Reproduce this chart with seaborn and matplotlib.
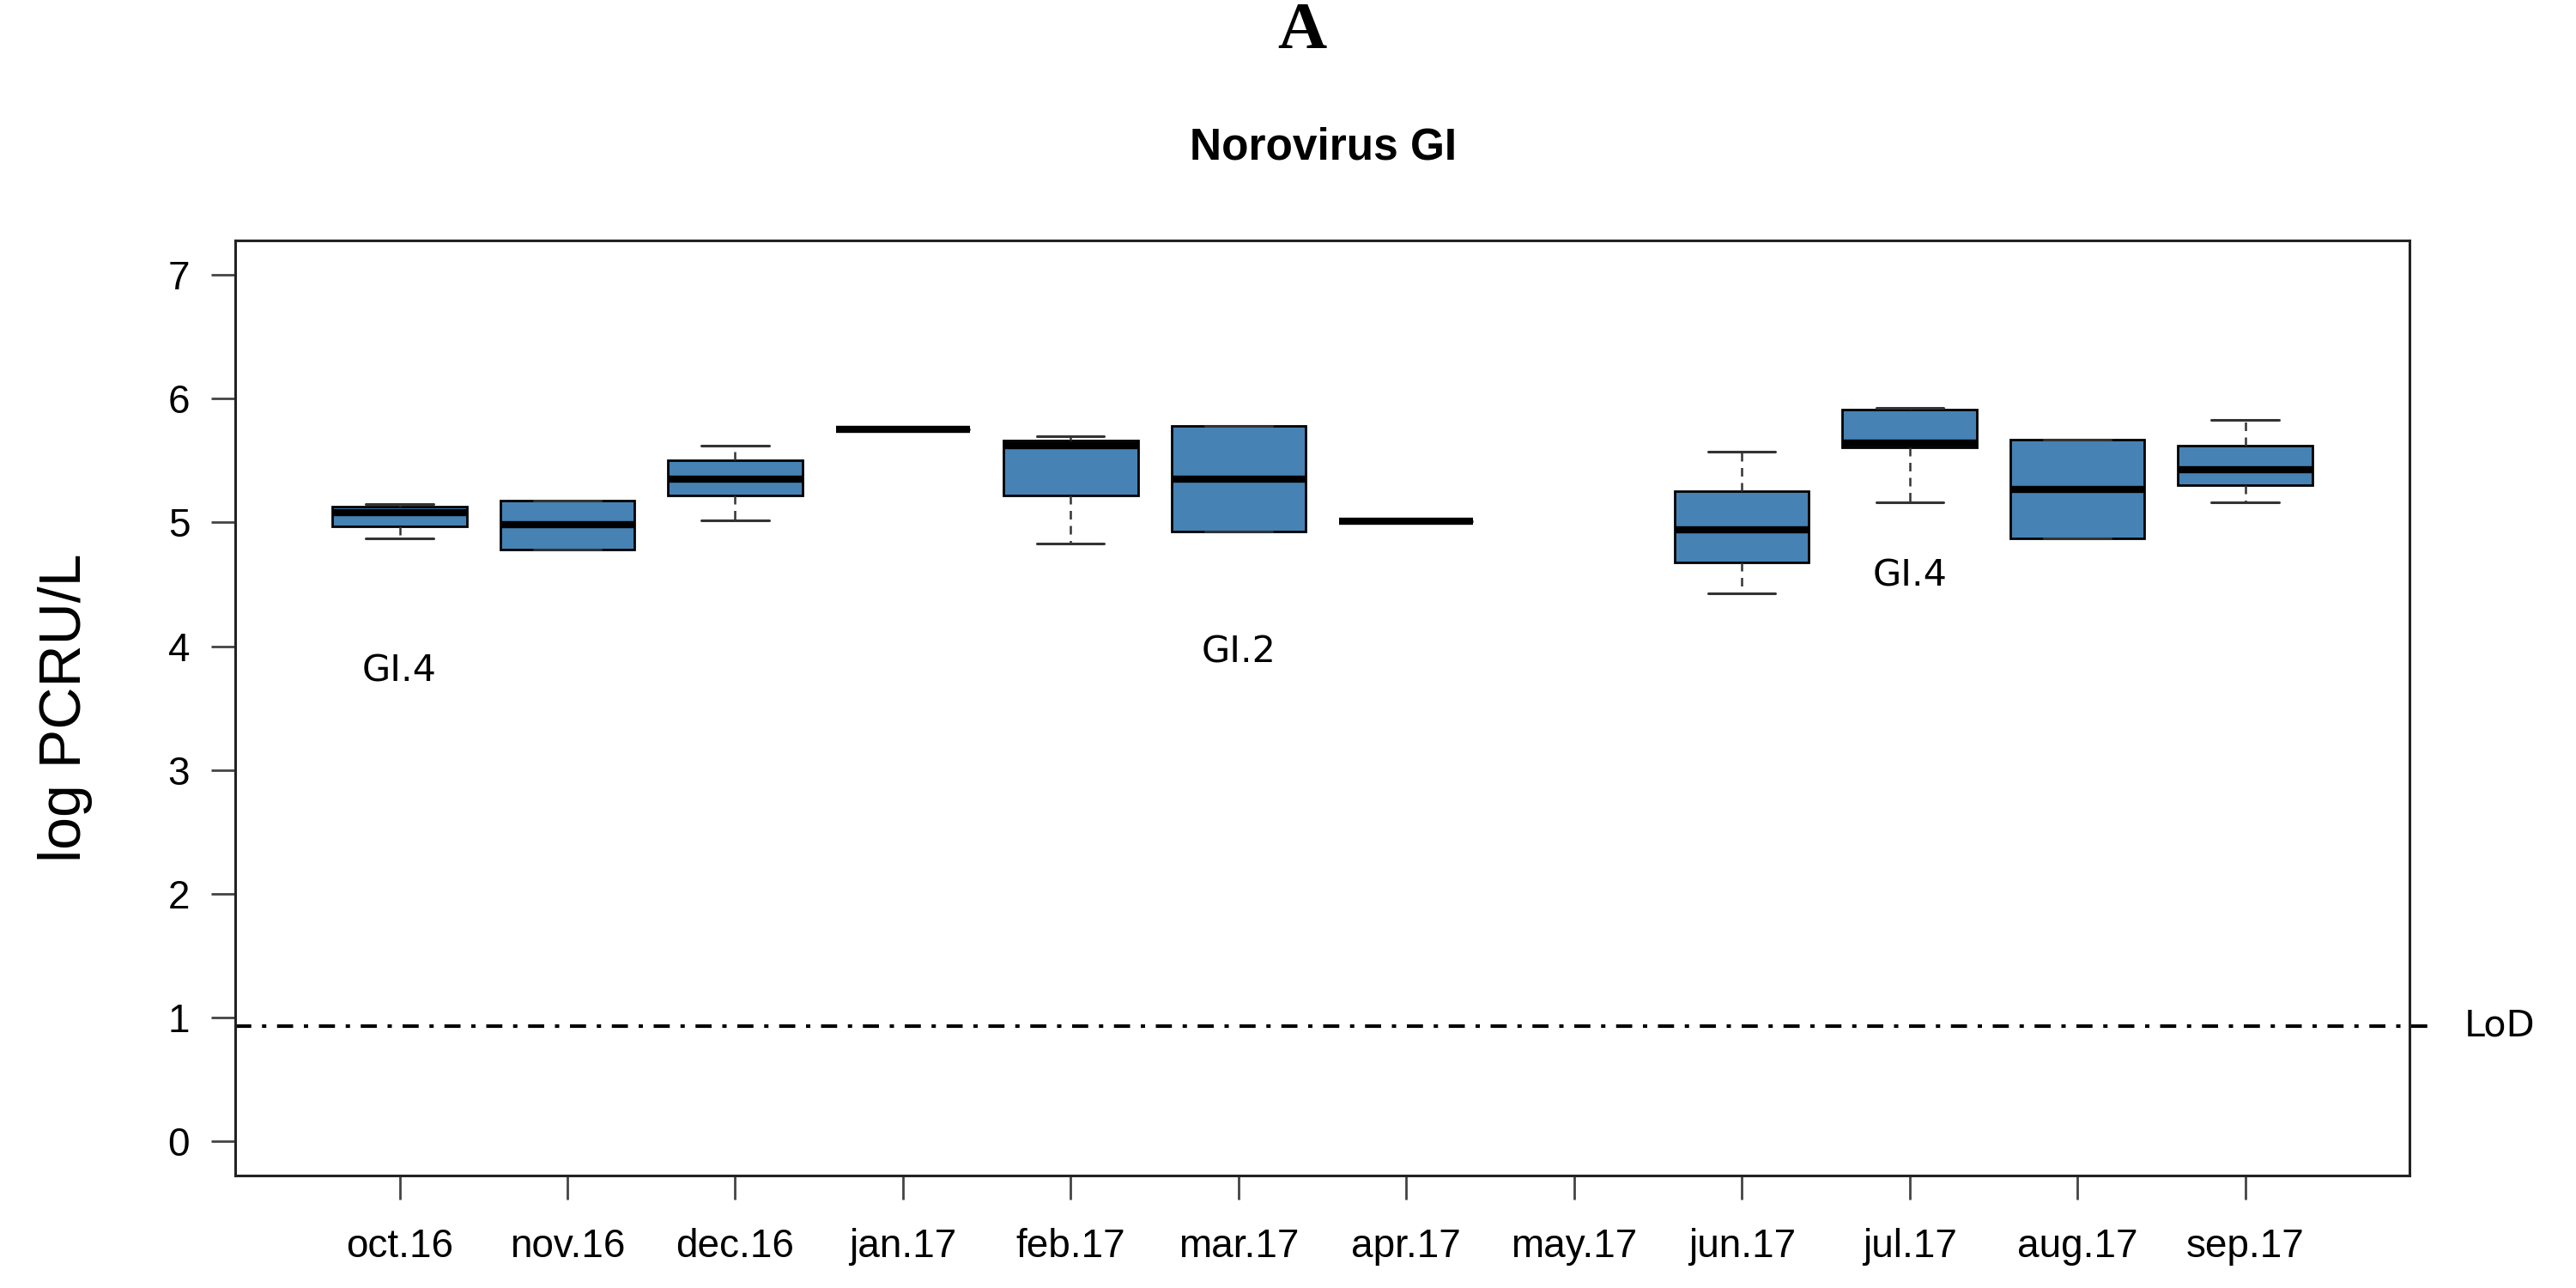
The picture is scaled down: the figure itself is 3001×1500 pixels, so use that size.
import numpy as np
import pandas as pd
import matplotlib
matplotlib.use("Agg")
import matplotlib.pyplot as plt
import matplotlib.transforms as mtransforms
import seaborn as sns

months = ["oct.16", "nov.16", "dec.16", "jan.17", "feb.17", "mar.17",
          "apr.17", "may.17", "jun.17", "jul.17", "aug.17", "sep.17"]

oct16 = [4.87, 4.97, 5.08, 5.13, 5.15]
nov16 = [4.78, 4.78, 4.98, 5.18, 5.18]
dec16 = [5.02, 5.22, 5.35, 5.50, 5.62]
jan17 = [5.75, 5.75, 5.75]
feb17 = [4.83, 5.22, 5.62, 5.66, 5.70]
mar17 = [4.93, 4.93, 5.35, 5.78, 5.78]
apr17 = [5.01, 5.01, 5.01]
may17 = []
jun17 = [4.43, 4.68, 4.94, 5.25, 5.57]
jul17 = [5.16, 5.61, 5.64, 5.91, 5.93]
aug17 = [4.87, 4.87, 5.27, 5.67, 5.67]
sep17 = [5.16, 5.30, 5.43, 5.62, 5.83]

series = [oct16, nov16, dec16, jan17, feb17, mar17, apr17, may17,
          jun17, jul17, aug17, sep17]

genotype_labels = ["GI.4", "GI.2", "GI.4"]
genotype_months = ["oct.16", "mar.17", "jul.17"]
genotype_y = [3.80, 3.95, 4.57]

lod_value = 0.93
lod_label = "LoD"

rows = [(m, v) for m, vals in zip(months, series) for v in vals]
df = pd.DataFrame(rows, columns=["month", "value"])

sns.set_style("ticks")
plt.rcParams["font.family"] = ["Liberation Sans", "DejaVu Sans"]
plt.rcParams["text.color"] = "black"
plt.rcParams["axes.labelcolor"] = "black"
plt.rcParams["xtick.labelcolor"] = "black"
plt.rcParams["ytick.labelcolor"] = "black"

fig = plt.figure(figsize=(30.01, 15), dpi=100)
ax = fig.add_axes([0.0913, 0.0873, 0.9354 - 0.0913, 0.8133 - 0.0873])

sns.boxplot(
    data=df, x="month", y="value", order=months, ax=ax,
    color="#4682B4", linecolor="black", linewidth=2, width=0.8,
    saturation=1,
    medianprops={"linewidth": 6, "color": "black"},
    whiskerprops={"linestyle": (0, (4, 3)), "linewidth": 1.8, "color": "#333333"},
    capprops={"linestyle": "-", "linewidth": 2.2, "color": "#333333"},
    flierprops={"marker": "o", "markerfacecolor": "white",
                "markeredgecolor": "black", "markersize": 17,
                "markeredgewidth": 1.8},
)

ax.set_xlim(-0.98, 11.98)
ax.set_ylim(-0.28, 7.28)
ax.set_yticks(range(0, 8))

# LoD reference line
ax.axhline(lod_value, xmin=0, xmax=1.01, color="black", linewidth=3,
           linestyle=(0, (4.5, 3, 1.2, 3)), clip_on=False)
ax.text(1.025, lod_value, lod_label,
        transform=mtransforms.blended_transform_factory(ax.transAxes, ax.transData),
        ha="left", va="center", fontsize=31, family=["DejaVu Sans"], clip_on=False)

# genotype annotations
for lab, m, yv in zip(genotype_labels, genotype_months, genotype_y):
    ax.text(months.index(m), yv, lab, ha="center", va="center",
            fontsize=31, family=["DejaVu Sans"])

for s in ax.spines.values():
    s.set_linewidth(2.2)
    s.set_color("#222222")
    s.set_visible(True)

ax.tick_params(axis="both", length=20, width=2, color="#444444",
               labelsize=33, direction="out", labelcolor="black")
ax.tick_params(axis="y", pad=18)
ax.tick_params(axis="x", pad=24)
ax.set_xlabel("")
ax.set_ylabel("log PCRU/L", fontsize=49, color="black")
ax.yaxis.set_label_coords(-0.0655, 0.5)

fig.text(0.5135, 1 - 186 / 1500, "Norovirus GI", ha="center", va="baseline",
         fontsize=37, fontweight="bold", color="black")
fig.text(0.5055, 1 - 56 / 1500, "A", ha="center", va="baseline",
         fontsize=57, fontweight="bold", family=["Liberation Serif"], color="black")

fig.savefig("out.png", dpi=100, facecolor="white")
